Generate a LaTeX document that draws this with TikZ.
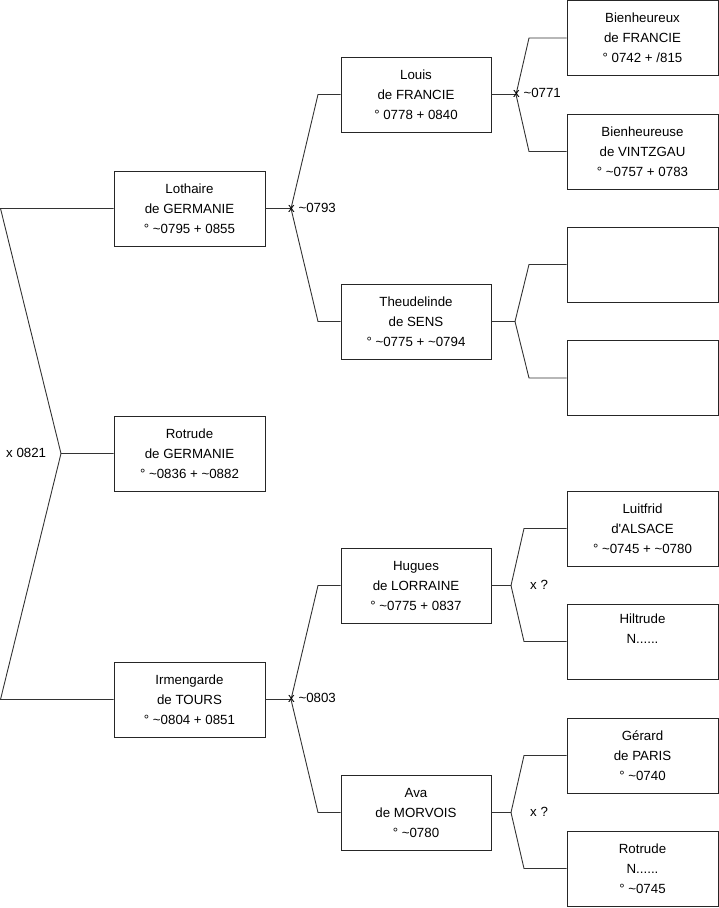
\documentclass[tikz,border=0pt]{standalone}
\usepackage{fontspec}
\setmainfont{Liberation Sans}
\newcommand{\tld}{\textasciitilde}
\begin{document}
\begin{tikzpicture}[x=1pt,y=-1pt,
  person/.style={draw=black!85,line width=0.9pt,rectangle,minimum width=151pt,minimum height=75pt,inner sep=0pt,align=center,font=\fontsize{13.3}{20}\selectfont},
  link/.style={draw=black!80,line width=0.9pt},
  mlabel/.style={font=\fontsize{13.3}{15}\selectfont,inner sep=0pt,anchor=west}]
\useasboundingbox (0,0) rectangle (719,908);
% generation 1
\node[person] (lothaire) at (189.5,208.5) {Lothaire\\de GERMANIE\\° \tld0795 + 0855};
\node[person] (rotrude) at (189.5,453.5) {Rotrude\\de GERMANIE\\° \tld0836 + \tld0882};
\node[person] (irmengarde) at (189.5,699.5) {Irmengarde\\de TOURS\\° \tld0804 + 0851};
% generation 2
\node[person,minimum width=150pt] (louis) at (416,94.5) {Louis\\de FRANCIE\\° 0778 + 0840};
\node[person,minimum width=150pt] (theud) at (416,321.5) {Theudelinde\\de SENS\\° \tld0775 + \tld0794};
\node[person,minimum width=150pt] (hugues) at (416,585.5) {Hugues\\de LORRAINE\\° \tld0775 + 0837};
\node[person,minimum width=150pt] (ava) at (416,812.5) {Ava\\de MORVOIS\\° \tld0780};
% generation 3
\node[person] (bienx) at (642.5,38) {Bienheureux\\de FRANCIE\\° 0742 + /815};
\node[person] (bienz) at (642.5,151.5) {Bienheureuse\\de VINTZGAU\\° \tld0757 + 0783};
\node[person] (e1) at (642.5,264.5) {};
\node[person] (e2) at (642.5,378) {};
\node[person] (luit) at (642.5,528.5) {Luitfrid\\d\textquotesingle ALSACE\\° \tld0745 + \tld0780};
\node[person] (hilt) at (642.5,641.5) {Hiltrude\\N......\\\strut};
\node[person] (gerard) at (642.5,755.5) {Gérard\\de PARIS\\° \tld0740};
\node[person] (rotn) at (642.5,868.5) {Rotrude\\N......\\° \tld0745};
% junction coordinates
\coordinate (a0) at (0.5,208.5);
\coordinate (j0) at (61,453.5);
\coordinate (b0) at (0.5,699.5);
\coordinate (j1) at (291,208.5);
\coordinate (u1) at (318,94.5);
\coordinate (d1) at (318,321.5);
\coordinate (j2) at (516,94.5);
\coordinate (u2) at (529,38);
\coordinate (d2) at (529,151.5);
\coordinate (j3) at (515,321.5);
\coordinate (u3) at (529,264.5);
\coordinate (d3) at (529,378);
\coordinate (j4) at (291,699.5);
\coordinate (u4) at (318,585.5);
\coordinate (d4) at (318,812.5);
\coordinate (j5) at (511,585.5);
\coordinate (u5) at (524,528.5);
\coordinate (d5) at (524,641.5);
\coordinate (j6) at (511,812.5);
\coordinate (u6) at (524,755.5);
\coordinate (d6) at (524,868.5);
% connectors
\draw[link] (lothaire.west) -- (a0) -- (j0) -- (rotrude.west);
\draw[link] (j0) -- (b0) -- (irmengarde.west);
\draw[link] (lothaire.east) -- (j1) -- (u1) -- (louis.west);
\draw[link] (j1) -- (d1) -- (theud.west);
\draw[link] (louis.east) -- (j2) -- (u2) -- (bienx.west);
\draw[link] (j2) -- (d2) -- (bienz.west);
\draw[link] (theud.east) -- (j3) -- (u3) -- (e1.west);
\draw[link] (j3) -- (d3) -- (e2.west);
\draw[link] (irmengarde.east) -- (j4) -- (u4) -- (hugues.west);
\draw[link] (j4) -- (d4) -- (ava.west);
\draw[link] (hugues.east) -- (j5) -- (u5) -- (luit.west);
\draw[link] (j5) -- (d5) -- (hilt.west);
\draw[link] (ava.east) -- (j6) -- (u6) -- (gerard.west);
\draw[link] (j6) -- (d6) -- (rotn.west);
% marriage labels
\node[mlabel] (m0) at (6,452.5) {x 0821};
\node[mlabel] (m1) at (288,207.5) {x \tld0793};
\node[mlabel] (m2) at (513,93) {x \tld0771};
\node[mlabel] (m4) at (288,697.5) {x \tld0803};
\node[mlabel] (m5) at (530,585) {x ?};
\node[mlabel] (m6) at (530,812) {x ?};
\end{tikzpicture}
\end{document}
